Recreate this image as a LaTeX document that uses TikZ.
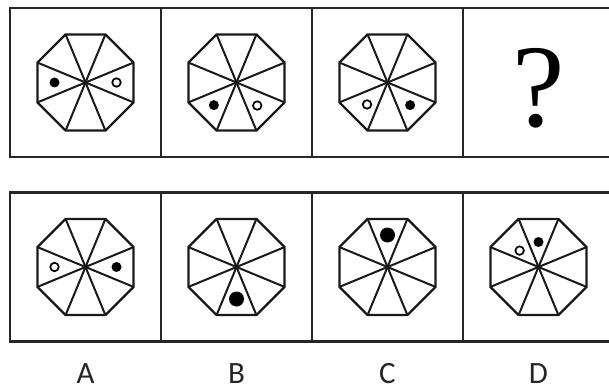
\documentclass[tikz,border=0pt]{standalone}
\usepackage{fontspec}
\usetikzlibrary{shapes.geometric, positioning}
\newfontfamily\labelfont{Carlito}
\newfontfamily\qmarkfont{Liberation Serif}
\tikzstyle{cell} = [rectangle, minimum width=151pt, minimum height=149pt, draw=black!85, line width=2.4pt, outer sep=0pt]
\tikzstyle{octa} = [regular polygon, regular polygon sides=8, minimum size=104pt, inner sep=0pt, outer sep=0pt, draw=black!90, line width=2.3pt]
\tikzstyle{spoke} = [black!90, line width=2pt]
\tikzstyle{blackdot} = [circle, fill=black, minimum size=10pt, inner sep=0pt]
\tikzstyle{whitedot} = [circle, draw=black, fill=white, line width=1.7pt, minimum size=8.5pt, inner sep=0pt]
\tikzstyle{bigdot} = [blackdot, minimum size=15pt]
\tikzstyle{letter} = [font=\labelfont\fontsize{31}{31}\selectfont, text=black!85, inner sep=0pt]

\begin{document}
\begin{tikzpicture}[x=1pt, y=1pt, node distance=151pt]
\clip (0,0) rectangle (609,391);

% Question row
\node (t1) [cell] at (85.5,308.5) {};
\node (t2) [cell, right of=t1] {};
\node (t3) [cell, right of=t2] {};
\node (t4) [cell, right of=t3] {};

% Answer row
\node (b1) [cell, below of=t1, yshift=-33.5pt] {};
\node (b2) [cell, right of=b1] {};
\node (b3) [cell, right of=b2] {};
\node (b4) [cell, right of=b3] {};

% Octagons with spokes
\foreach \c in {t1,t2,t3,b1,b2,b3,b4} {
  \node (\c-oct) [octa] at (\c) {};
  \foreach \i/\j in {1/5,2/6,3/7,4/8}
    \draw [spoke] (\c-oct.corner \i) -- (\c-oct.corner \j);
}

% Dots
\node (t1-black) [blackdot] at ([shift={(180:31pt)}]t1-oct.center) {};
\node (t1-white) [whitedot] at ([shift={(0:31pt)}]t1-oct.center) {};
\node (t2-black) [blackdot] at ([shift={(225:32pt)}]t2-oct.center) {};
\node (t2-white) [whitedot] at ([shift={(312:31pt)}]t2-oct.center) {};
\node (t3-white) [whitedot] at ([shift={(227:30pt)}]t3-oct.center) {};
\node (t3-black) [blackdot] at ([shift={(315:32pt)}]t3-oct.center) {};
\node (b1-white) [whitedot] at ([shift={(180:31pt)}]b1-oct.center) {};
\node (b1-black) [blackdot] at ([shift={(0:31pt)}]b1-oct.center) {};
\node (b2-black) [bigdot] at ([shift={(270:32pt)}]b2-oct.center) {};
\node (b3-black) [bigdot] at ([shift={(90:32pt)}]b3-oct.center) {};
\node (b4-black) [blackdot] at ([shift={(90:25pt)}]b4-oct.center) {};
\node (b4-white) [whitedot] at ([shift={(139:25pt)}]b4-oct.center) {};

% Question mark
\node (qmark) [font=\qmarkfont\fontsize{118}{118}\selectfont, yshift=-6pt] at (t4) {?};

% Labels
\node (la) [letter, node distance=107pt, below of=b1] {A};
\node (lb) [letter, node distance=107pt, below of=b2] {B};
\node (lc) [letter, node distance=107pt, below of=b3] {C};
\node (ld) [letter, node distance=107pt, below of=b4] {D};

\end{tikzpicture}
\end{document}
